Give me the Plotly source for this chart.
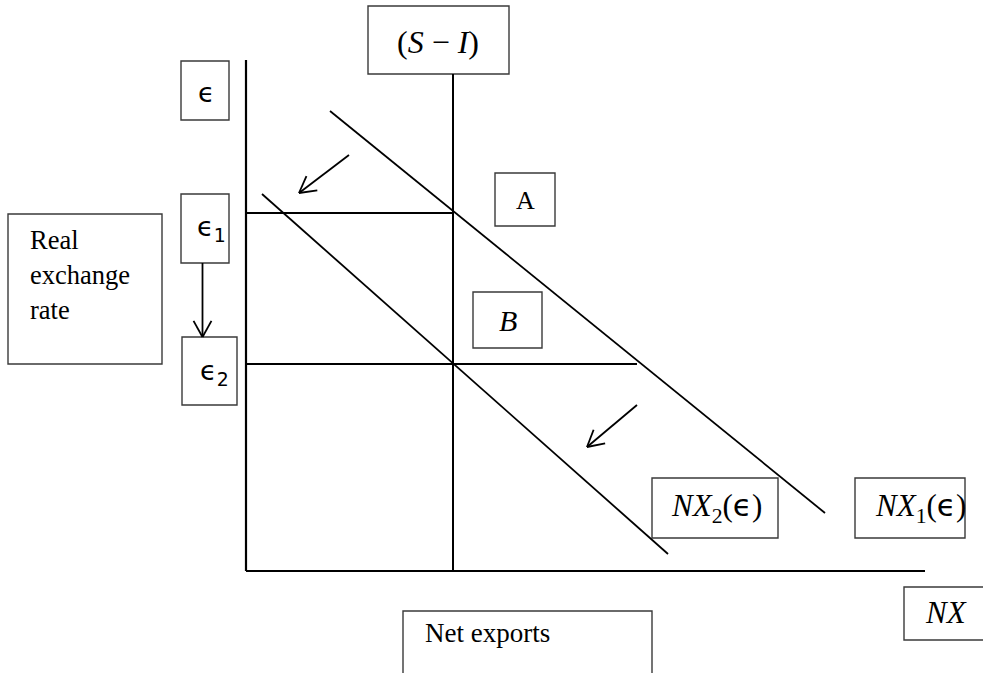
import math
import plotly.graph_objects as go

# ---------------- data (economic diagram coordinates, origin at axes corner) -------------
axis_nx_end = 67.9          # length of NX axis
axis_eps_end = 51.1         # height of epsilon axis
s_minus_i_nx = 20.7         # position of vertical (S - I) line
s_minus_i_top = 49.7        # top of the (S - I) line
nx1_curve_x = [8.4, 57.9]   # NX1(eps) schedule
nx1_curve_y = [46.0, 5.8]
nx2_curve_x = [1.6, 42.2]   # NX2(eps) schedule
nx2_curve_y = [37.7, 1.7]
eps_levels = [35.8, 20.7]   # eps1, eps2 equilibrium levels
eps_line_ends = [20.7, 39.1]
shift_arrows = [            # (tail x, tail y, head x, head y)
    (10.3, 41.6, 5.3, 37.8),
    (39.1, 16.6, 34.1, 12.4),
    (-4.35, 30.8, -4.35, 23.4),
]

# ---------------- geometry helpers ----------------
W, H = 983, 673
OX, OY, UNIT = 246, 571, 10.0


def dx(px):
    return (px - OX) / UNIT


def dy(py):
    return (OY - py) / UNIT


fig = go.Figure()

BLACK = "#000000"


def add_line(xs, ys, width=1.8):
    fig.add_trace(go.Scatter(x=xs, y=ys, mode="lines",
                             line=dict(color=BLACK, width=width),
                             hoverinfo="skip", showlegend=False))


# axes
add_line([0, 0], [0, axis_eps_end], 2.2)
add_line([0, axis_nx_end], [0, 0], 2.2)
# (S - I)
add_line([s_minus_i_nx, s_minus_i_nx], [0, s_minus_i_top], 2.0)
# schedules
add_line(nx1_curve_x, nx1_curve_y, 1.8)
add_line(nx2_curve_x, nx2_curve_y, 1.8)
# equilibrium levels
for lvl, end in zip(eps_levels, eps_line_ends):
    add_line([0, end], [lvl, lvl], 2.0)

# arrows with open V heads
HEAD_LEN = 1.85
HEAD_ANG = math.radians(29)
for tx, ty, hx, hy in shift_arrows:
    add_line([tx, hx], [ty, hy], 1.8)
    ang = math.atan2(ty - hy, tx - hx)
    for s in (1, -1):
        a = ang + s * HEAD_ANG
        add_line([hx, hx + HEAD_LEN * math.cos(a)], [hy, hy + HEAD_LEN * math.sin(a)], 1.8)

# ---------------- label boxes (pixel layout) ----------------
boxes = [
    (368, 6, 509, 74),      # (S-I)
    (181, 61, 229, 120),    # eps
    (181, 194, 229, 263),   # eps1
    (182, 337, 237, 405),   # eps2
    (8, 214, 162, 364),     # Real exchange rate
    (495, 173, 555, 226),   # A
    (473, 292, 542, 348),   # B
    (652, 478, 778, 538),   # NX2
    (855, 478, 965, 538),   # NX1
    (904, 587, 995, 640),   # NX
    (403, 611, 652, 690),   # Net exports
]
shapes = []
for x0, y0, x1, y1 in boxes:
    shapes.append(dict(type="rect", xref="x", yref="y",
                       x0=dx(x0), x1=dx(x1), y0=dy(y0), y1=dy(y1),
                       line=dict(color="#3a3a3a", width=1.4),
                       fillcolor="rgba(0,0,0,0)", layer="below"))

SERIF = "Liberation Serif, Times New Roman, serif"
MATH = "Liberation Serif, DejaVu Sans, sans-serif"
EPS = "DejaVu Sans, sans-serif"
EPS_SPAN = "<span style=\"font-family:'DejaVu Sans'\">ϵ</span>"

labels = [
    # text, px, py, size, font, xanchor
    ("(<i>S</i> − <i>I</i>)", 438, 42, 32, MATH, "center"),
    ("ϵ", 206, 92, 27, EPS, "center"),
    ("ϵ<sub>1</sub>", 211, 228, 27, EPS, "center"),
    ("ϵ<sub>2</sub>", 214, 372, 27, EPS, "center"),
    ("Real", 28, 240, 26.5, SERIF, "left"),
    ("exchange", 28, 275, 26.5, SERIF, "left"),
    ("rate", 28, 310, 26.5, SERIF, "left"),
    ("A", 525, 200, 26, SERIF, "center"),
    ("<i>B</i>", 508, 320, 30, MATH, "center"),
    ("<i>NX</i><sub>2</sub>(" + EPS_SPAN + ")", 716, 507, 31, MATH, "center"),
    ("<i>NX</i><sub>1</sub>(" + EPS_SPAN + ")", 920, 507, 31, MATH, "center"),
    ("<i>NX</i>", 946, 612, 31, MATH, "center"),
    ("Net exports", 423, 633, 27, SERIF, "left"),
]
annotations = []
for text, px, py, size, fam, xa in labels:
    annotations.append(dict(text=text, x=dx(px), y=dy(py), xref="x", yref="y",
                            xanchor=xa, yanchor="middle", showarrow=False,
                            font=dict(family=fam, size=size, color=BLACK)))

fig.update_layout(
    width=W, height=H,
    margin=dict(l=0, r=0, t=0, b=0),
    paper_bgcolor="white", plot_bgcolor="white",
    xaxis=dict(range=[dx(0), dx(W)], visible=False, fixedrange=True),
    yaxis=dict(range=[dy(H), dy(0)], visible=False, fixedrange=True),
    shapes=shapes, annotations=annotations,
    showlegend=False,
)

fig.write_html("out.html", config={"displayModeBar": False},
               post_script="document.body.style.margin='0';document.body.style.overflow='hidden';")
